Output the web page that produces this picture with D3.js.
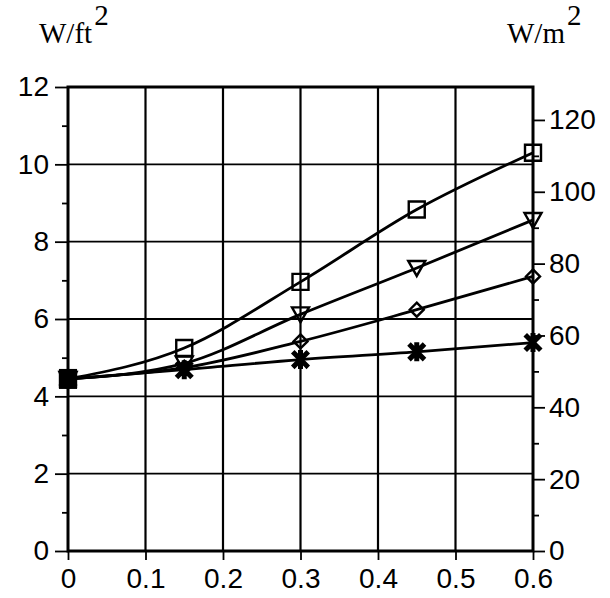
<!DOCTYPE html>
<html>
<head>
<meta charset="utf-8">
<script src="https://cdn.jsdelivr.net/npm/d3@7/dist/d3.min.js"></script>
<style>
  html, body { margin: 0; padding: 0; background: #fff; }
  svg { display: block; }
</style>
</head>
<body>
<svg id="chart" width="610" height="598"></svg>
<script>
// Ventilation rate (x) against load density in W/ft² (left) and W/m² (right)
const xValues = [0, 0.15, 0.3, 0.45, 0.6];
const squareSeries = [4.45, 5.25, 6.96, 8.83, 10.3];
const triangleSeries = [4.45, 4.85, 6.12, 7.32, 8.56];
const diamondSeries = [4.45, 4.74, 5.42, 6.24, 7.1];
const asteriskSeries = [4.45, 4.69, 4.95, 5.15, 5.39];

const xTicks = [0, 0.1, 0.2, 0.3, 0.4, 0.5, 0.6];
const leftTicks = [0, 2, 4, 6, 8, 10, 12];
const leftMinor = [1, 3, 5, 7, 9, 11];
const rightTicks = [0, 20, 40, 60, 80, 100, 120];
const rightMinor = [10, 30, 50, 70, 90, 110];
const M2_PER_FT2 = 10.764;

const svg = d3.select("#chart");
const plotLeft = 68, plotRight = 533, plotTop = 87, plotBottom = 551;

const x = d3.scaleLinear().domain([0, 0.6]).range([plotLeft, plotRight]);
const y = d3.scaleLinear().domain([0, 12]).range([plotBottom, plotTop]);
const y2 = d3.scaleLinear().domain([0, 12 * M2_PER_FT2]).range([plotBottom, plotTop]);

const tickFont = "'Liberation Sans', Arial, Helvetica, sans-serif";

// grid
const grid = svg.append("g").attr("stroke", "#000");
grid.selectAll("line.v").data(xTicks.slice(1, -1)).join("line")
  .attr("class", "v")
  .attr("x1", d => x(d)).attr("x2", d => x(d))
  .attr("y1", plotTop).attr("y2", plotBottom).attr("stroke-width", 2.2);
grid.selectAll("line.h").data(leftTicks.slice(1, -1)).join("line")
  .attr("class", "h")
  .attr("x1", plotLeft).attr("x2", plotRight)
  .attr("y1", d => y(d)).attr("y2", d => y(d)).attr("stroke-width", 1.8);

// frame
svg.append("rect")
  .attr("x", plotLeft).attr("y", plotTop)
  .attr("width", plotRight - plotLeft).attr("height", plotBottom - plotTop)
  .attr("fill", "none").attr("stroke", "#000").attr("stroke-width", 3);

// axes
function styleAxis(g) {
  g.select(".domain").remove();
  g.selectAll(".tick line").attr("stroke", "#000").attr("stroke-width", 1.8);
  g.selectAll(".tick text").attr("fill", "#000")
    .style("font-family", tickFont).style("font-size", "28px");
}

svg.append("g").attr("transform", `translate(${plotLeft},0)`)
  .call(d3.axisLeft(y).tickValues(leftTicks).tickSize(13).tickPadding(6).tickFormat(d3.format("d")))
  .call(styleAxis);
svg.append("g").attr("transform", `translate(${plotLeft},0)`)
  .call(d3.axisLeft(y).tickValues(leftMinor).tickSize(6).tickFormat(""))
  .call(styleAxis);

svg.append("g").attr("transform", `translate(${plotRight},0)`)
  .call(d3.axisRight(y2).tickValues(rightTicks).tickSize(12).tickPadding(4).tickFormat(d3.format("d")))
  .call(styleAxis);
svg.append("g").attr("transform", `translate(${plotRight},0)`)
  .call(d3.axisRight(y2).tickValues(rightMinor).tickSize(6).tickFormat(""))
  .call(styleAxis);

svg.append("g").attr("transform", `translate(0,${plotBottom})`)
  .call(d3.axisBottom(x).tickValues(xTicks).tickSize(9).tickPadding(8).tickFormat(d => d === 0 ? "0" : d3.format(".1f")(d)))
  .call(styleAxis);

// unit labels
function unitLabel(xPos, base) {
  const t = svg.append("text").attr("x", xPos).attr("y", 43)
    .style("font-family", "'Liberation Serif', 'Times New Roman', serif")
    .style("font-size", "29px").attr("fill", "#000");
  t.append("tspan").text(base);
  t.append("tspan").attr("dx", 2).attr("dy", -18).text("2");
}
unitLabel(39, "W/ft");
unitLabel(507, "W/m");

// curves
const line = d3.line().x(d => x(d[0])).y(d => y(d[1])).curve(d3.curveMonotoneX);
const series = [
  { values: squareSeries, mark: "square" },
  { values: triangleSeries, mark: "triangle" },
  { values: diamondSeries, mark: "diamond" },
  { values: asteriskSeries, mark: "asterisk" }
];

series.forEach(s => {
  svg.append("path")
    .datum(xValues.map((v, i) => [v, s.values[i]]))
    .attr("d", line)
    .attr("fill", "none").attr("stroke", "#000").attr("stroke-width", 2.8);
});

// markers
function markerPath(mark) {
  switch (mark) {
    case "square": return "M-8,-8H8V8H-8Z";
    case "triangle": return "M-8.5,-7H8.5L0,8Z";
    case "diamond": return "M0,-7L7,0L0,7L-7,0Z";
    default: return "M-6,-6L6,6M-6,6L6,-6M0,-7V7";
  }
}

series.forEach(s => {
  const g = svg.append("g");
  g.selectAll("path").data(xValues.map((v, i) => [v, s.values[i]])).join("path")
    .attr("transform", d => `translate(${x(d[0])},${y(d[1])})`)
    .attr("d", markerPath(s.mark))
    .attr("fill", "none")
    .attr("stroke", "#000")
    .attr("stroke-width", s.mark === "asterisk" ? 5 : 2.4)
    .attr("stroke-linecap", s.mark === "asterisk" ? "square" : "butt");
});

// the overlapping start point reads as a solid block
svg.append("rect")
  .attr("x", x(xValues[0]) - 9).attr("y", y(squareSeries[0]) - 10)
  .attr("width", 18).attr("height", 20).attr("fill", "#000");
</script>
</body>
</html>
